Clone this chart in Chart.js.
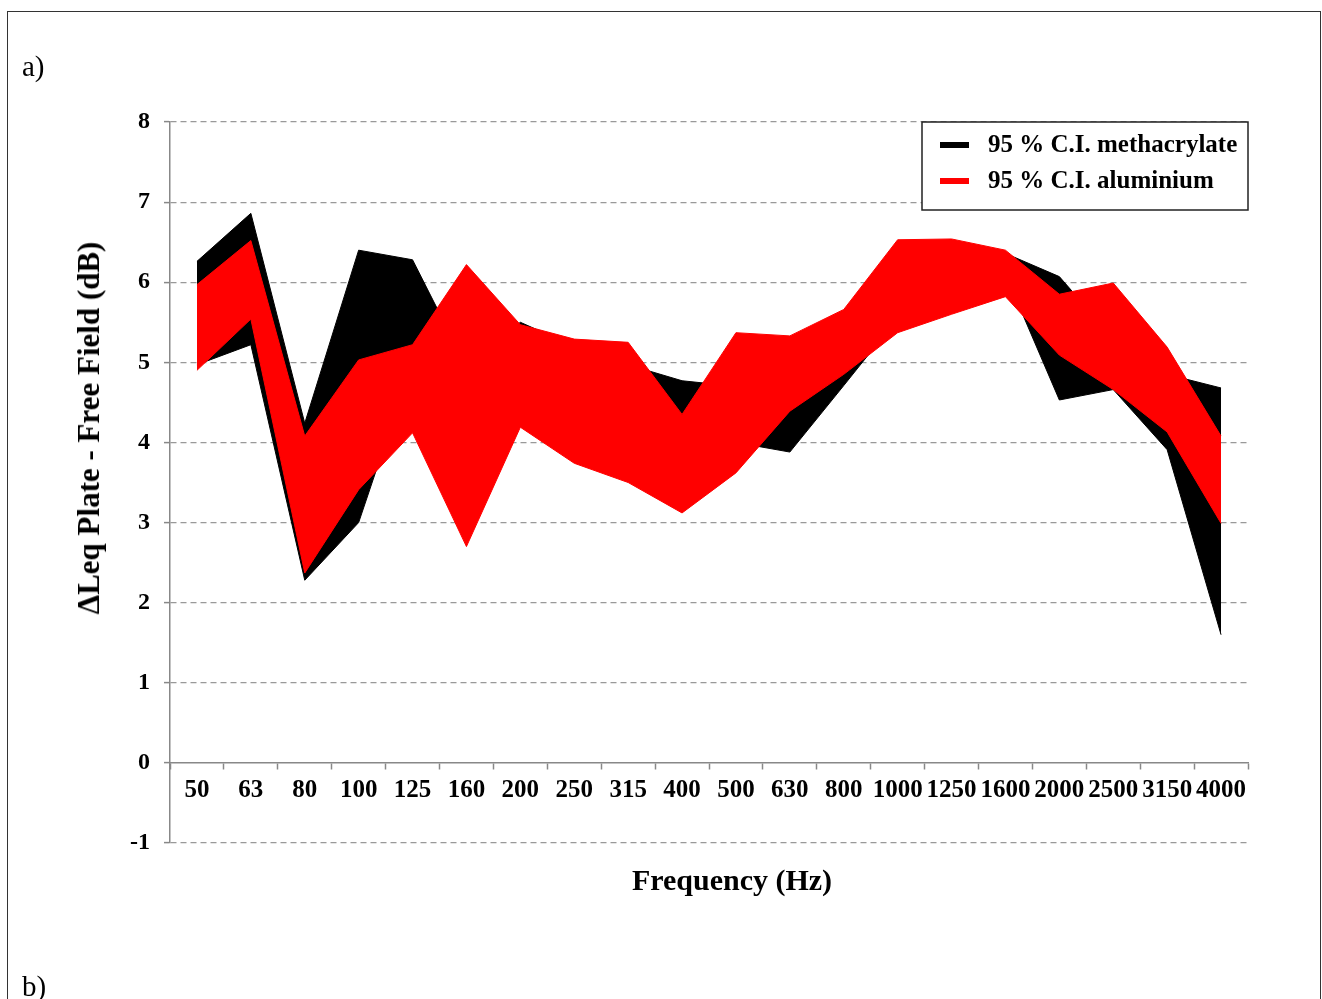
<!DOCTYPE html>
<html>
<head>
<meta charset="utf-8">
<script src="https://cdn.jsdelivr.net/npm/chart.js@4"></script>
<style>
  body { margin: 0; background: #fff; }
  #wrap { position: relative; width: 1322px; height: 999px; overflow: hidden; font-family: "Liberation Serif", "Times New Roman", serif; }
  #frame { position: absolute; left: 7px; top: 11px; width: 1312px; height: 1100px; border: 1.5px solid #333; }
  canvas { position: absolute; left: 0; top: 0; }
  .lbl { position: absolute; font-size: 29px; color: #000; white-space: nowrap; }
  #ytitle { left: 89px; top: 428px; font-size: 31px; font-weight: bold; transform: translate(-50%, -50%) rotate(-90deg); }
  #xtitle { left: 732px; top: 880px; font-size: 30px; font-weight: bold; transform: translate(-50%, -50%); }
</style>
</head>
<body>
<div id="wrap">
  <div id="frame"></div>
  <canvas id="bandChart" width="1322" height="999"></canvas>
  <div class="lbl" style="left:22px; top:50px;">a)</div>
  <div class="lbl" style="left:22px; top:970px;">b)</div>
  <div class="lbl" id="ytitle">ΔLeq Plate - Free Field (dB)</div>
  <div class="lbl" id="xtitle">Frequency (Hz)</div>
</div>
<script>
// third-octave bands
const frequencies = ['50', '63', '80', '100', '125', '160', '200', '250', '315', '400',
                     '500', '630', '800', '1000', '1250', '1600', '2000', '2500', '3150', '4000'];

// 95 % confidence interval, methacrylate plate
const methacrylateUpper = [6.26, 6.86, 4.24, 6.40, 6.28, 4.95, 5.50, 5.20, 4.97, 4.77,
                           4.70, 4.90, 5.30, 6.00, 6.20, 6.36, 6.07, 5.30, 4.85, 4.68];
const methacrylateLower = [4.97, 5.22, 2.28, 3.00, 5.00, 4.40, 4.60, 4.20, 4.00, 3.90,
                           4.00, 3.88, 4.71, 5.55, 5.70, 6.10, 4.53, 4.66, 3.91, 1.60];

// 95 % confidence interval, aluminium plate
const aluminiumUpper = [5.97, 6.52, 4.08, 5.03, 5.22, 6.22, 5.47, 5.29, 5.25, 4.35,
                        5.37, 5.33, 5.66, 6.53, 6.54, 6.40, 5.85, 5.99, 5.19, 4.08];
const aluminiumLower = [4.90, 5.54, 2.37, 3.41, 4.12, 2.70, 4.19, 3.74, 3.50, 3.12,
                        3.62, 4.39, 4.85, 5.37, 5.60, 5.82, 5.09, 4.66, 4.13, 2.99];

const yTicks = [-1, 0, 1, 2, 3, 4, 5, 6, 7, 8];
const seriesNames = ['95 % C.I. methacrylate', '95 % C.I. aluminium'];

const BLACK = '#000000';
const RED = '#ff0000';
const serif = '"Liberation Serif", "Times New Roman", serif';

// boxed legend in the top right corner of the plot
const boxLegend = {
    id: 'boxLegend',
    afterDraw(chart) {
        const ctx = chart.ctx;
        const area = chart.chartArea;
        const w = 326, h = 88;
        const left = area.right - w, top = area.top;
        ctx.save();
        ctx.fillStyle = '#fff';
        ctx.fillRect(left, top, w, h);
        ctx.strokeStyle = '#222';
        ctx.lineWidth = 1.5;
        ctx.strokeRect(left, top, w, h);
        const colors = [BLACK, RED];
        ctx.font = 'bold 25px ' + serif;
        ctx.textBaseline = 'middle';
        seriesNames.forEach((name, i) => {
            const y = top + 23 + i * 36;
            ctx.fillStyle = colors[i];
            ctx.fillRect(left + 18, y - 3, 29, 6);
            ctx.fillStyle = '#000';
            ctx.fillText(name, left + 66, y + 1);
        });
        ctx.restore();
    }
};

const ctx = document.getElementById('bandChart').getContext('2d');

new Chart(ctx, {
    type: 'line',
    data: {
        labels: frequencies,
        datasets: [
            { label: seriesNames[1], data: aluminiumUpper, borderColor: RED, backgroundColor: RED, borderWidth: 1, fill: '+1' },
            { label: seriesNames[1] + ' low', data: aluminiumLower, borderColor: RED, backgroundColor: RED, borderWidth: 1, fill: false },
            { label: seriesNames[0], data: methacrylateUpper, borderColor: BLACK, backgroundColor: BLACK, borderWidth: 1, fill: '+1' },
            { label: seriesNames[0] + ' low', data: methacrylateLower, borderColor: BLACK, backgroundColor: BLACK, borderWidth: 1, fill: false }
        ]
    },
    options: {
        responsive: false,
        animation: false,
        elements: { point: { radius: 0 }, line: { tension: 0 } },
        layout: { padding: { left: 100, right: 74, top: 122, bottom: 156 } },
        plugins: {
            legend: { display: false },
            tooltip: { enabled: false }
        },
        scales: {
            x: {
                type: 'category',
                position: { y: 0 },
                offset: true,
                grid: { display: true, drawOnChartArea: false, offset: true, tickLength: 6, tickColor: '#888', tickWidth: 1.5 },
                border: { color: '#888', width: 1.5 },
                ticks: {
                    autoSkip: false, maxRotation: 0, minRotation: 0, padding: 7,
                    color: '#000', font: { family: serif, size: 25, weight: 'bold' }
                }
            },
            y: {
                min: -1,
                max: 8,
                afterFit: (scale) => { scale.width = 70; },
                afterBuildTicks: (scale) => { scale.ticks = yTicks.map(v => ({ value: v })); },
                grid: {
                    color: (c) => c.tick && c.tick.value === 0 ? 'rgba(0,0,0,0)' : '#999',
                    lineWidth: 1.2,
                    tickLength: 6,
                    tickColor: '#888',
                    tickWidth: 1.5
                },
                border: { color: '#888', width: 1.5, dash: [6, 4] },
                ticks: {
                    stepSize: 1, padding: 14,
                    color: '#000', font: { family: serif, size: 24, weight: 'bold' }
                }
            }
        }
    },
    plugins: [boxLegend]
});
</script>
</body>
</html>
